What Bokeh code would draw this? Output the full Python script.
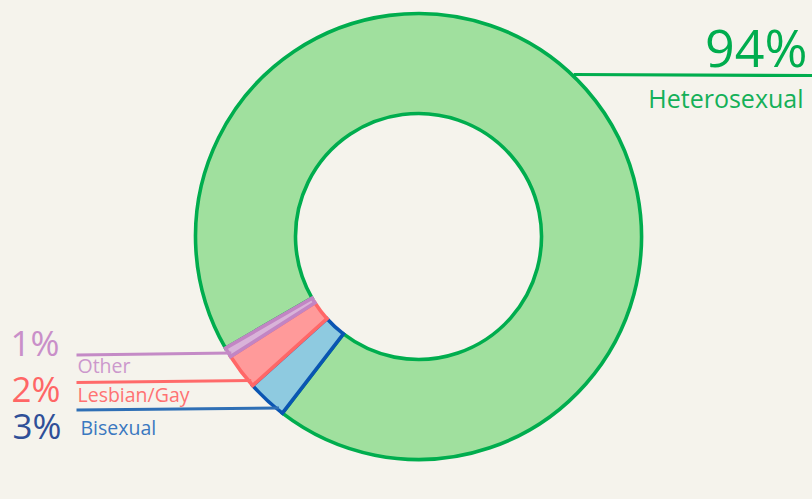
import math
from bokeh.plotting import figure
from bokeh.models import Range1d
from bokeh.core.properties import value
from bokeh.embed import file_html
from bokeh.resources import INLINE

# ---- data ----
categories = ["Heterosexual", "Bisexual", "Lesbian/Gay", "Other"]
shares = [93.8, 2.9, 2.6, 0.7]
pct_labels = ["94%", "3%", "2%", "1%"]

# ---- styles ----
BG = "#f5f3ec"
fill_colors = ["#a0e09e", "#8ecae0", "#ff9a9a", "#d9b3d9"]
line_colors = ["#00ad4e", "#0a55b2", "#ff6767", "#c285c4"]
pct_colors = ["#00ad4e", "#2f4f98", "#ff6666", "#c98fc9"]
name_colors = ["#14b058", "#3a78c0", "#ff7272", "#cc98cc"]
leader_colors = ["#00ad4e", "#2f6fb5", "#ff6a6a", "#c48ac6"]

W, H = 812, 499
OX, OY = 0, 0
BASE_K = 0.39   # baseline compensation (fraction of font size)


def X(xs):
    return xs - OX


def Y(ys):
    return H - (ys - OY)


CX, CY = 418, 236          # donut centre (page px)
R_OUT, R_IN = 223, 123
START_DEG = 210.06

p = figure(width=W, height=H, x_range=Range1d(0, W), y_range=Range1d(0, H),
           output_backend="svg", toolbar_location=None,
           x_axis_type=None, y_axis_type=None, min_border=0,
           background_fill_color=BG, border_fill_color=BG,
           outline_line_color=None)
p.grid.visible = False

total = sum(shares)
starts, ends = [], []
a = math.radians(START_DEG)
for s in shares:
    span = s / total * 2 * math.pi
    starts.append(a)
    ends.append(a - span)
    a -= span

for i in range(len(categories)):
    p.annular_wedge(x=X(CX), y=Y(CY), inner_radius=R_IN, outer_radius=R_OUT,
                    inner_radius_units="screen", outer_radius_units="screen",
                    start_angle=starts[i], end_angle=ends[i], direction="clock",
                    fill_color=fill_colors[i], line_color=line_colors[i],
                    line_width=3.6, line_join="miter")

# ---- leader lines ----
leader_y = [74, 407.5, 380, 352.5]
for i, ly in enumerate(leader_y):
    dy = ly - CY
    dx = math.sqrt(R_OUT ** 2 - dy ** 2)
    if i == 0:
        xs = [CX + dx + 2, 812]
        ys = [ly, ly + 1]
    else:
        xs = [76, CX - dx + 3]
        ys = [ly + 2, ly]
    p.line(x=[X(v) for v in xs], y=[Y(v) for v in ys],
           line_color=leader_colors[i], line_width=3.2)

FONT = value("Open Sans")


def label(x, y, txt, size, color, align):
    p.text(x=[X(x)], y=[Y(y - BASE_K * size)], text=[txt], text_align=align,
           text_baseline="alphabetic", text_font=FONT,
           text_font_size=f"{size}px", text_color=color)


# Heterosexual label (right)
label(807, 66, pct_labels[0], 52, pct_colors[0], "right")
label(803, 107, categories[0], 25, name_colors[0], "right")

# left labels
pct_pos = {1: (12, 439), 2: (11, 402), 3: (10, 356)}
name_pos = {1: (80, 435), 2: (77, 402), 3: (77, 373)}
for i in (1, 2, 3):
    px, py = pct_pos[i]
    label(px, py, pct_labels[i], 35, pct_colors[i], "left")
    nx, ny = name_pos[i]
    label(nx, ny, categories[i], 19.5, name_colors[i], "left")

template = "{% block preamble %}<style>html, body { background: #f5f3ec; }</style>{% endblock %}"
open("out.html", "w").write(file_html(p, INLINE, template=template))
